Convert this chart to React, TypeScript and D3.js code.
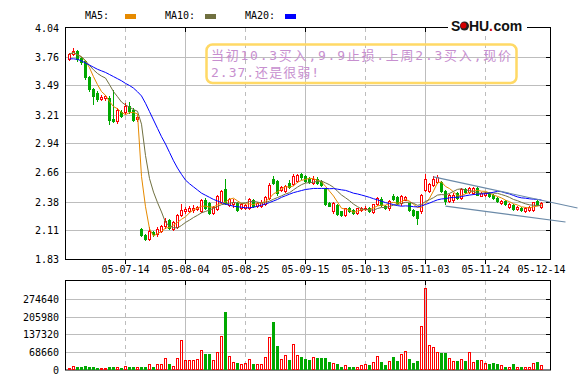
import { useRef, useEffect } from "react";
import * as d3 from "d3";

// daily OHLC (one entry per trading day)
const opens = [
  3.74, 3.79, 3.82, 3.75, 3.72, 3.57, 3.46, 3.42, 3.36, 3.37,
  3.37, 3.17, 3.15, 3.24, 3.24, 3.29, 3.26, 3.17, 2.12, 2.06,
  2.02, 2.09, 2.07, 2.10, 2.15, 2.20, 2.12, 2.14, 2.25, 2.29,
  2.29, 2.30, 2.31, 2.29, 2.39, 2.37, 2.27, 2.31, 2.38, 2.50,
  2.35, 2.36, 2.37, 2.32, 2.32, 2.32, 2.39, 2.34, 2.34, 2.36,
  2.41, 2.60, 2.58, 2.49, 2.48, 2.56, 2.55, 2.58, 2.64, 2.62,
  2.60, 2.56, 2.60, 2.58, 2.50, 2.37, 2.285, 2.35, 2.285, 2.25,
  2.32, 2.30, 2.27, 2.30, 2.305, 2.32, 2.28, 2.355, 2.405, 2.34,
  2.315, 2.435, 2.42, 2.365, 2.395, 2.365, 2.30, 2.285, 2.285, 2.49,
  2.48, 2.54, 2.57, 2.57, 2.48, 2.385, 2.39, 2.46, 2.41, 2.50,
  2.47, 2.46, 2.51, 2.435, 2.445, 2.46, 2.44, 2.41, 2.365, 2.385,
  2.33, 2.35, 2.31, 2.32, 2.29, 2.30, 2.30, 2.385, 2.33,
];
const highs = [
  3.80, 3.85, 3.83, 3.76, 3.73, 3.58, 3.47, 3.44, 3.40, 3.40,
  3.39, 3.45, 3.27, 3.26, 3.32, 3.33, 3.27, 3.21, 2.13, 2.07,
  2.14, 2.10, 2.14, 2.16, 2.22, 2.21, 2.19, 2.26, 2.36, 2.33,
  2.34, 2.35, 2.34, 2.40, 2.41, 2.38, 2.34, 2.44, 2.49, 2.60,
  2.41, 2.40, 2.38, 2.37, 2.36, 2.41, 2.40, 2.38, 2.39, 2.43,
  2.56, 2.62, 2.59, 2.53, 2.54, 2.59, 2.64, 2.64, 2.65, 2.63,
  2.61, 2.62, 2.61, 2.59, 2.51, 2.38, 2.38, 2.36, 2.29, 2.32,
  2.33, 2.31, 2.32, 2.33, 2.34, 2.33, 2.36, 2.42, 2.42, 2.35,
  2.39, 2.45, 2.43, 2.44, 2.43, 2.37, 2.31, 2.29, 2.45, 2.64,
  2.56, 2.62, 2.63, 2.58, 2.49, 2.45, 2.46, 2.47, 2.51, 2.51,
  2.52, 2.52, 2.52, 2.47, 2.47, 2.47, 2.45, 2.42, 2.39, 2.39,
  2.37, 2.36, 2.34, 2.33, 2.33, 2.34, 2.38, 2.39, 2.38,
];
const lows = [
  3.73, 3.78, 3.72, 3.70, 3.55, 3.44, 3.31, 3.34, 3.35, 3.35,
  3.12, 3.14, 3.13, 3.19, 3.22, 3.23, 3.15, 3.15, 2.05, 2.01,
  2.01, 2.05, 2.05, 2.09, 2.13, 2.12, 2.11, 2.13, 2.24, 2.27,
  2.28, 2.28, 2.30, 2.28, 2.31, 2.26, 2.26, 2.30, 2.37, 2.36,
  2.34, 2.33, 2.29, 2.31, 2.31, 2.31, 2.33, 2.33, 2.33, 2.35,
  2.40, 2.55, 2.44, 2.48, 2.47, 2.51, 2.54, 2.57, 2.60, 2.57,
  2.56, 2.55, 2.55, 2.53, 2.35, 2.335, 2.27, 2.25, 2.245, 2.245,
  2.28, 2.26, 2.26, 2.29, 2.295, 2.28, 2.27, 2.35, 2.34, 2.31,
  2.30, 2.39, 2.36, 2.35, 2.39, 2.29, 2.24, 2.165, 2.27, 2.48,
  2.47, 2.53, 2.56, 2.47, 2.355, 2.38, 2.38, 2.40, 2.40, 2.46,
  2.46, 2.45, 2.44, 2.43, 2.43, 2.42, 2.40, 2.38, 2.36, 2.35,
  2.32, 2.30, 2.30, 2.29, 2.28, 2.29, 2.29, 2.35, 2.32,
];
const closes = [
  3.79, 3.82, 3.74, 3.71, 3.57, 3.46, 3.39, 3.36, 3.38, 3.39,
  3.16, 3.15, 3.26, 3.20, 3.29, 3.25, 3.16, 3.19, 2.06, 2.02,
  2.10, 2.07, 2.12, 2.15, 2.19, 2.13, 2.18, 2.25, 2.30, 2.31,
  2.32, 2.32, 2.33, 2.39, 2.32, 2.27, 2.33, 2.43, 2.48, 2.37,
  2.40, 2.38, 2.30, 2.36, 2.35, 2.40, 2.34, 2.37, 2.38, 2.42,
  2.54, 2.56, 2.46, 2.52, 2.53, 2.52, 2.62, 2.63, 2.61, 2.58,
  2.57, 2.60, 2.555, 2.54, 2.36, 2.34, 2.37, 2.26, 2.25, 2.315,
  2.29, 2.27, 2.315, 2.315, 2.32, 2.29, 2.355, 2.41, 2.35, 2.315,
  2.385, 2.40, 2.365, 2.43, 2.42, 2.30, 2.25, 2.22, 2.44, 2.60,
  2.545, 2.60, 2.61, 2.48, 2.385, 2.445, 2.445, 2.41, 2.50, 2.47,
  2.51, 2.51, 2.445, 2.46, 2.46, 2.43, 2.41, 2.385, 2.385, 2.355,
  2.355, 2.31, 2.33, 2.30, 2.32, 2.33, 2.375, 2.355, 2.37,
];
const volumes = [
  5800, 16100, 9700, 9700, 16100, 13500, 13500, 5800, 5800, 5800,
  13500, 9700, 9700, 5800, 16100, 9700, 9700, 13500, 9700, 9700,
  21300, 9700, 21300, 21300, 44500, 21300, 16100, 44500, 114100, 36700,
  36700, 36700, 40600, 75400, 60000, 60000, 36700, 67700, 129600, 222400,
  52200, 29000, 25100, 21300, 25100, 40600, 21300, 21300, 21300, 48300,
  125700, 183700, 90900, 40600, 56100, 36700, 98600, 56100, 48300, 40600,
  36700, 48300, 44500, 44500, 44500, 29000, 25100, 21300, 13500, 17400,
  13500, 9700, 9700, 17400, 21300, 17400, 29000, 52200, 29000, 17400,
  32900, 48300, 32900, 60000, 71600, 40600, 25100, 32900, 168300, 315200,
  94800, 87000, 67700, 63800, 63800, 44500, 32900, 32900, 40600, 32900,
  67700, 29000, 36700, 36700, 25100, 21300, 25100, 21300, 17400, 9700,
  13500, 21300, 13500, 13500, 13500, 13500, 25100, 29000, 17400,
];

const dateLabels = ["05-07-14", "05-08-04", "05-08-25", "05-09-15", "05-10-13", "05-11-03", "05-11-24", "05-12-14"];
const dateIndex = [14, 29, 44, 59, 74, 89, 104, 118];
const priceTicks = [1.83, 2.11, 2.38, 2.66, 2.94, 3.21, 3.49, 3.76, 4.04];
const volumeTicks = [0, 68660, 137320, 205980, 274640];

const maPeriods = [5, 10, 20];
const maColors = ["#e68a00", "#707040", "#0000ff"];

// the source's averages around the price gap don't follow the plain closes,
// so those stretches are read straight off the picture
const ma5ReadStart = 18;
const ma5Read = [2.62, 2.33, 2.12, 2.05];
const ma10ReadStart = 18;
const ma10Read = [3.12, 2.82, 2.6, 2.47, 2.37, 2.28, 2.18, 2.145, 2.13];
const ma20ReadStart = 0;
const ma20Read = [
  3.745, 3.745, 3.74, 3.725, 3.705, 3.685, 3.665, 3.645, 3.63, 3.615,
  3.595, 3.575, 3.555, 3.535, 3.51, 3.49, 3.465, 3.43, 3.39, 3.32,
  3.24, 3.16, 3.08, 3.0, 2.93, 2.85, 2.77, 2.7, 2.64, 2.585,
  2.55, 2.52, 2.49, 2.46, 2.44, 2.42, 2.4, 2.385, 2.37, 2.355,
  2.345, 2.335, 2.33, 2.325, 2.32, 2.32, 2.325, 2.335, 2.345, 2.355,
  2.37, 2.385, 2.4, 2.42, 2.435, 2.45, 2.465, 2.475, 2.485, 2.495,
  2.5, 2.505, 2.505, 2.505,
];
const maReads = [
  [ma5ReadStart, ma5Read],
  [ma10ReadStart, ma10Read],
  [ma20ReadStart, ma20Read],
] as [number, number[]][];

// hand-drawn channel: [index, price] at each end
const channelLines = [
  [[91, 2.615], [127, 2.318]],
  [[94, 2.335], [124, 2.184]],
];

const noteLines = ["当初10.3买入,9.9止损.上周2.3买入,现价", "2.37.还是很弱!"];

function movingAverage(values: number[], n: number) {
  return values.map((_, i) => d3.mean(values.slice(Math.max(0, i - n + 1), i + 1)) as number);
}

export default function App() {
  const svgRef = useRef<SVGSVGElement>(null);

  useEffect(() => {
    if (!svgRef.current) return;
    const svg = d3.select(svgRef.current);
    svg.selectAll("*").remove();

    const left = 65, right = 550, top = 28, bottom = 259;
    const vTop = 281, vBottom = 370;
    const mono = "'DejaVu Sans Mono', monospace";
    const grid = "#bdbdbd";
    const red = "#ff0000";
    const green = "#00a800";

    const n = closes.length;
    const x = d3.scaleLinear().domain([0, n - 1]).range([69, 69 + 4 * (n - 1)]);
    const y = d3.scaleLinear().domain([1.83, 4.04]).range([bottom, top]);
    const yv = d3.scaleLinear().domain([0, 343300]).range([vBottom, vTop]);
    const px = (i: number) => Math.round(x(i));

    // legend
    const legend = svg.append("g").attr("font-family", mono).attr("font-size", 10).attr("fill", "#000");
    maPeriods.forEach((p, k) => {
      legend.append("text").attr("x", 85 + 80 * k).attr("y", 19).text(`MA${p}:`);
      legend.append("rect").attr("x", 125 + 80 * k).attr("y", 14).attr("width", 11).attr("height", 5).attr("fill", maColors[k]);
    });

    // grids
    const gridG = svg.append("g").attr("stroke", grid).attr("stroke-width", 1);
    priceTicks.slice(1, -1).forEach((v) => {
      const yy = Math.round(y(v)) + 0.5;
      gridG.append("line").attr("x1", left).attr("x2", right).attr("y1", yy).attr("y2", yy);
    });
    volumeTicks.slice(1).forEach((v) => {
      const yy = Math.round(yv(v)) + 0.5;
      gridG.append("line").attr("x1", left).attr("x2", right).attr("y1", yy).attr("y2", yy);
    });
    dateIndex.slice(0, -1).forEach((d, k) => {
      const xx = px(d) + 0.5;
      [[top, bottom], [vTop, vBottom]].forEach(([a, b]) => {
        gridG.append("line").attr("x1", xx).attr("x2", xx).attr("y1", a).attr("y2", b)
          .attr("stroke-dasharray", k % 2 === 0 ? "4,4" : null);
      });
    });

    // frames + ticks
    const frame = svg.append("g").attr("stroke", "#000").attr("fill", "none");
    frame.append("rect").attr("x", left + 0.5).attr("y", top - 0.5).attr("width", right - left).attr("height", bottom - top + 1);
    frame.append("rect").attr("x", left + 0.5).attr("y", vTop - 0.5).attr("width", right - left).attr("height", vBottom - vTop + 0.5);
    priceTicks.slice(1, -1).forEach((v) => {
      const yy = Math.round(y(v)) + 0.5;
      frame.append("line").attr("x1", right - 4).attr("x2", right).attr("y1", yy).attr("y2", yy);
    });
    volumeTicks.slice(1).forEach((v) => {
      const yy = Math.round(yv(v)) + 0.5;
      frame.append("line").attr("x1", right - 4).attr("x2", right).attr("y1", yy).attr("y2", yy);
    });
    dateIndex.slice(0, -1).forEach((d, k) => {
      const xx = px(d) + 0.5;
      frame.append("line").attr("x1", xx).attr("x2", xx).attr("y1", bottom).attr("y2", bottom + 5);
      if (k % 2 === 1) {
        frame.append("line").attr("x1", xx).attr("x2", xx).attr("y1", top).attr("y2", top + 4);
        frame.append("line").attr("x1", xx).attr("x2", xx).attr("y1", vTop).attr("y2", vTop + 4);
      }
    });

    // axis labels
    const labels = svg.append("g").attr("font-family", mono).attr("font-size", 10).attr("fill", "#000");
    priceTicks.forEach((v) => {
      labels.append("text").attr("x", 59).attr("y", Math.round(y(v)) + 4).attr("text-anchor", "end").text(v.toFixed(2));
    });
    volumeTicks.forEach((v) => {
      labels.append("text").attr("x", 59).attr("y", Math.round(yv(v)) + 4).attr("text-anchor", "end").text(String(v));
    });
    dateIndex.forEach((d, k) => {
      labels.append("text").attr("x", px(d) + 0.5).attr("y", 273).attr("text-anchor", "middle").text(dateLabels[k]);
    });

    // volume bars
    const vol = svg.append("g");
    volumes.forEach((v, i) => {
      const c = px(i);
      const t = Math.round(yv(v));
      if (closes[i] >= opens[i]) {
        vol.append("rect").attr("x", c - 0.5).attr("y", t + 0.5).attr("width", 2).attr("height", Math.max(vBottom - t - 1, 0))
          .attr("fill", "none").attr("stroke", red);
      } else {
        vol.append("rect").attr("x", c - 1).attr("y", t).attr("width", 3).attr("height", vBottom - t).attr("fill", green);
      }
    });

    // candles
    const candles = svg.append("g");
    closes.forEach((cl, i) => {
      const c = px(i);
      const up = cl >= opens[i];
      const color = up ? red : green;
      const hi = Math.round(y(highs[i]));
      const lo = Math.round(y(lows[i]));
      const bt = Math.round(y(Math.max(opens[i], cl)));
      const bb = Math.round(y(Math.min(opens[i], cl)));
      candles.append("line").attr("x1", c + 0.5).attr("x2", c + 0.5).attr("y1", hi).attr("y2", lo + 1).attr("stroke", color);
      if (up) {
        candles.append("rect").attr("x", c - 0.5).attr("y", bt + 0.5).attr("width", 2).attr("height", Math.max(bb - bt, 1))
          .attr("fill", "#fff").attr("stroke", red);
      } else {
        candles.append("rect").attr("x", c - 1).attr("y", bt).attr("width", 3).attr("height", Math.max(bb - bt + 1, 1)).attr("fill", green);
      }
    });

    // moving averages
    maPeriods.forEach((p, k) => {
      const ma = movingAverage(closes, p);
      const [start, read] = maReads[k];
      read.forEach((v, j) => { ma[start + j] = v; });
      const line = d3.line<number>().x((_, i) => px(i) + 0.5).y((d) => y(d));
      svg.append("path").attr("d", line(ma)).attr("fill", "none").attr("stroke", maColors[k]).attr("stroke-width", 1);
    });

    // channel lines
    channelLines.forEach(([a, b]) => {
      svg.append("line")
        .attr("x1", x(a[0]) + 0.5).attr("y1", y(a[1]))
        .attr("x2", x(b[0]) + 0.5).attr("y2", y(b[1]))
        .attr("stroke", "#6b8aa8").attr("stroke-width", 1.2);
    });

    // note box
    const note = svg.append("g");
    note.append("rect").attr("x", 206.5).attr("y", 44.5).attr("width", 310).attr("height", 38.5).attr("rx", 6)
      .attr("fill", "none").attr("stroke", "#ffd966").attr("stroke-width", 2.5);
    const noteWidths = [300, 108];
    noteLines.forEach((t, k) => {
      note.append("text").attr("x", 211).attr("y", 60 + 17 * k)
        .attr("font-family", "'DejaVu Sans Mono', 'Noto Sans CJK SC', monospace").attr("font-size", 13)
        .attr("fill", "#c78fcf").attr("textLength", noteWidths[k]).attr("lengthAdjust", "spacing").text(t);
    });

    // logo
    const logo = svg.append("g").attr("font-family", "'Liberation Sans', Arial, sans-serif").attr("font-weight", "bold").attr("font-size", 14);
    logo.append("rect").attr("x", 448).attr("y", 19).attr("width", 79).attr("height", 15).attr("fill", "#fff");
    logo.append("text").attr("x", 451).attr("y", 31).attr("fill", "#111").text("S");
    logo.append("circle").attr("cx", 464.5).attr("cy", 26).attr("r", 4.5).attr("fill", "#222");
    logo.append("circle").attr("cx", 463.5).attr("cy", 25.5).attr("r", 3).attr("fill", "#d40000");
    logo.append("text").attr("x", 469).attr("y", 31).attr("fill", "#111").text("HU");
    logo.append("text").attr("x", 489).attr("y", 31).attr("fill", "#d40000").text(".");
    logo.append("text").attr("x", 493.5).attr("y", 31).attr("fill", "#111").text("com");
  }, []);

  return (
    <svg
      ref={svgRef}
      width={582}
      height={387}
      viewBox="0 0 582 387"
      style={{ position: "absolute", left: 0, top: 0, background: "#fff", display: "block" }}
    />
  );
}
